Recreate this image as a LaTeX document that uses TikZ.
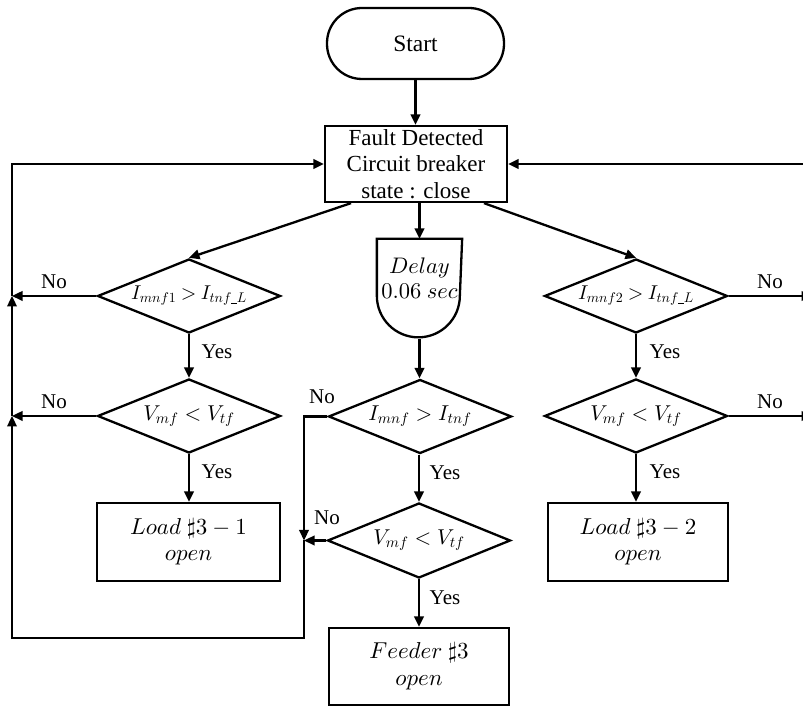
\documentclass[tikz,border=0pt]{standalone}
\usepackage{fontspec}
\setmainfont{Liberation Serif}
% scalable Computer Modern math fonts for large formula sizes
\DeclareFontShape{OML}{cmm}{m}{it}{<->cmmi10}{}
\DeclareFontShape{OMS}{cmsy}{m}{n}{<->cmsy10}{}
\DeclareFontShape{OT1}{cmr}{m}{n}{<->cmr10}{}
\usetikzlibrary{shapes.geometric,arrows.meta,calc}

% small low bar used inside subscripts
\newcommand{\subbar}{\rule[-1pt]{5.5pt}{0.8pt}}

\tikzset{
  flow/.style={-{Triangle[length=10.5pt,width=9.5pt]}},
  terminal/.style={draw, rectangle, rounded corners=35pt, inner sep=0pt,
    font=\fontsize{23.5}{26.5}\selectfont},
  box/.style={draw, rectangle, align=center, inner sep=0pt,
    font=\fontsize{23}{26.5}\selectfont},
  decision/.style={draw, diamond, aspect=2.5, inner sep=0pt,
    minimum width=183pt, minimum height=74pt,
    font=\fontsize{21.5}{24}\selectfont},
  widecond/.style={font=\fontsize{20}{22}\selectfont},
  lbl/.style={inner sep=0pt, font=\fontsize{21}{24}\selectfont},
}

\begin{document}
\begin{tikzpicture}[x=1pt,y=1pt,line width=2.3pt]
\useasboundingbox (0,0) rectangle (803,706);
\clip (0,0) rectangle (803,706);

% main column
\node[terminal, minimum width=177pt, minimum height=71pt] (start) at (415.5,662.5) {Start};
\node[box, minimum width=182pt, minimum height=76pt] (fd) at (416,542)
  {Fault Detected\\Circuit breaker\\state : close};

% delay element: flat top, semicircular bottom
\node[minimum width=83pt, minimum height=98pt, inner sep=0pt] (delay) at (419.5,417) {};
\draw (delay.north west) -- ++(0,-57) arc[start angle=180, end angle=360, radius=41.5pt]
  -- (delay.north east) -- cycle;
\node[align=center, inner sep=0pt, font=\fontsize{22.5}{25}\selectfont] (delaytext) at (419.5,428)
  {$Delay$\\$0.06\ sec$};

\node[decision] (m1) at (420,289.5) {$I_{mnf} > I_{tnf}$};
\node[decision, minimum height=75pt] (m2) at (419,165.5) {$V_{mf} < V_{tf}$};
\node[box, minimum width=180pt, minimum height=77pt] (feeder) at (419,39.5)
  {$Feeder\ \sharp 3$\\$open$};

% left branch
\node[decision, widecond] (l1) at (189,410)
  {$\thickmuskip=4mu I_{mnf1} > I_{tnf\subbar L}$};
\node[decision] (l2) at (189,290) {$V_{mf} < V_{tf}$};
\node[box, minimum width=183pt, minimum height=78pt] (load1) at (188.5,164)
  {$Load\ \sharp 3-1$\\$open$};

% right branch
\node[decision, widecond] (r1) at (636,410)
  {$\thickmuskip=4mu I_{mnf2} > I_{tnf\subbar L}$};
\node[decision] (r2) at (636,290) {$V_{mf} < V_{tf}$};
\node[box, minimum width=180pt, minimum height=78pt] (load2) at (638,164)
  {$Load\ \sharp 3-2$\\$open$};

% forward connectors
\draw[flow] (start.south) -- (start.south |- fd.north);
\draw[flow] ([xshift=-65pt]fd.south) -- (l1.north);
\draw[flow] ([xshift=68pt]fd.south) -- (r1.north);
\draw[flow] (fd.south -| delay.north) -- (delay.north);
\draw[flow] (delay.south) -- (delay.south |- m1.north);
\draw[flow] (m1.south -| m2.north) -- (m2.north);
\draw[flow] (m2.south) -- (feeder.north);
\draw[flow] (l1.south) -- (l2.north);
\draw[flow] (l2.south) -- (l2.south |- load1.north);
\draw[flow] (r1.south) -- (r2.north);
\draw[flow] (r2.south) -- (r2.south |- load2.north);

% return paths on the left
\coordinate (ja) at (304,289.5);
\coordinate (jb) at (304,165.5);
\coordinate (cb1) at (304,68);
\coordinate (cb2) at (12,68);
\coordinate (jl2) at (12,290);
\coordinate (jl1) at (12,410);
\coordinate (ct) at (12,542);
\draw[flow] (m1.west) -- (ja) -- (jb);
\draw[flow] (m2.west) -- (jb);
\draw[flow] (jb) -- (cb1) -- (cb2) -- (jl2);
\draw[flow] (jl2) -- (jl1);
\draw[flow] (jl1) -- (ct) -- (fd.west);
\draw[flow] (l1.west) -- (jl1);
\draw[flow] (l2.west) -- (jl2);

% return paths on the right
\coordinate (jr1) at (812,410);
\coordinate (jr2) at (812,290);
\coordinate (ctr) at (812,542);
\draw[flow] (r1.east) -- (jr1);
\draw[flow] (r2.east) -- (jr2);
\draw (jr2) -- (jr1);
\draw[flow] (jr1) -- (ctr) -- (fd.east);

% branch labels
\node[lbl] (nl1) at (54,424) {No};
\node[lbl] (nl2) at (54,304) {No};
\node[lbl] (yl1) at (217,354) {Yes};
\node[lbl] (yl2) at (217,234) {Yes};
\node[lbl] (nm1) at (322,309) {No};
\node[lbl] (ym1) at (445,233) {Yes};
\node[lbl] (nm2) at (327,188) {No};
\node[lbl] (ym2) at (445,108) {Yes};
\node[lbl] (nr1) at (770,424) {No};
\node[lbl] (nr2) at (770,304) {No};
\node[lbl] (yr1) at (665,354) {Yes};
\node[lbl] (yr2) at (665,234) {Yes};
\end{tikzpicture}
\end{document}
